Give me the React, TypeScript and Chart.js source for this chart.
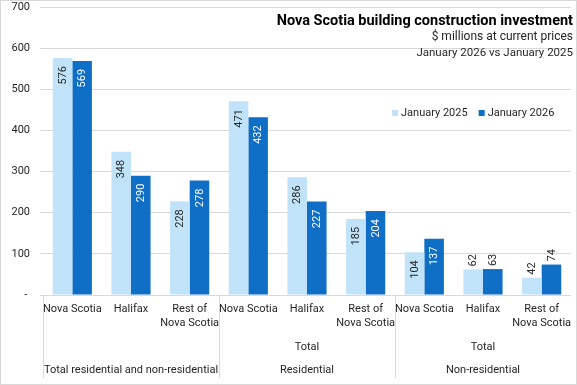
import React, { useEffect, useRef } from "react";
import { Chart, registerables } from "chart.js";

Chart.register(...registerables);

// ---- Data ----
const categoryLabels: string[][] = [
  ["Nova Scotia"], ["Halifax"], ["Rest of", "Nova Scotia"],
  ["Nova Scotia"], ["Halifax"], ["Rest of", "Nova Scotia"],
  ["Nova Scotia"], ["Halifax"], ["Rest of", "Nova Scotia"],
];
const groupStarts = [0, 3, 6];
const groupSizes = [3, 3, 3];
const groupTopLabels = ["", "Total", "Total"];
const groupBottomLabels = ["Total residential and non-residential", "Residential", "Non-residential"];
const seriesNames = ["January 2025", "January 2026"];
const jan2025 = [576, 348, 228, 471, 286, 185, 104, 62, 42];
const jan2026 = [569, 290, 278, 432, 227, 204, 137, 63, 74];
const yMax = 700;
const yStep = 100;
const titleText = "Nova Scotia building construction investment";
const subtitleLines = ["$ millions at current prices", "January 2026 vs January 2025"];

const LIGHT = "#C0E3FA";
const DARK = "#0F6FC6";
const TEXT = "#262626";
const FONT = "Roboto";

const overlayPlugin = {
  id: "overlay",
  beforeDraw(chart: any) {
    const { ctx, width, height } = chart;
    ctx.save();
    ctx.fillStyle = "#ffffff";
    ctx.fillRect(0, 0, width, height);
    ctx.restore();
  },
  afterDatasetsDraw(chart: any) {
    const { ctx } = chart;
    ctx.save();
    ctx.font = `11px ${FONT}`;
    ctx.textBaseline = "middle";
    chart.data.datasets.forEach((ds: any, di: number) => {
      const meta = chart.getDatasetMeta(di);
      meta.data.forEach((el: any, i: number) => {
        const txt = String(ds.data[i]);
        const w = ctx.measureText(txt).width;
        const h = el.base - el.y;
        const inside = h >= w + 22;
        ctx.save();
        ctx.translate(el.x + 0.5, el.y);
        ctx.rotate(-Math.PI / 2);
        if (inside) {
          ctx.textAlign = "right";
          ctx.fillStyle = di === 1 ? "#ffffff" : TEXT;
          ctx.fillText(txt, -8, 0);
        } else {
          ctx.textAlign = "left";
          ctx.fillStyle = TEXT;
          ctx.fillText(txt, 3, 0);
        }
        ctx.restore();
      });
    });
    ctx.restore();
  },
  afterDraw(chart: any) {
    const { ctx, chartArea, width, height } = chart;
    const xs = chart.scales.x;
    const catW = xs.getPixelForValue(1) - xs.getPixelForValue(0);
    const bottom = chartArea.bottom;
    ctx.save();
    // category labels
    ctx.fillStyle = TEXT;
    ctx.font = `11px ${FONT}`;
    ctx.textAlign = "center";
    ctx.textBaseline = "middle";
    categoryLabels.forEach((lines, i) => {
      const x = xs.getPixelForValue(i);
      lines.forEach((ln, li) => ctx.fillText(ln, x, bottom + 14 + li * 14));
    });
    // group separators and labels
    ctx.strokeStyle = "#D9D9D9";
    ctx.lineWidth = 1;
    groupStarts.forEach((s, g) => {
      const left = xs.getPixelForValue(s) - catW / 2;
      const right = xs.getPixelForValue(s + groupSizes[g] - 1) + catW / 2;
      const lx = Math.round(left) + 0.5;
      ctx.beginPath();
      ctx.moveTo(lx, bottom);
      ctx.lineTo(lx, bottom + 83);
      ctx.stroke();
      const cx = (left + right) / 2;
      if (groupTopLabels[g]) ctx.fillText(groupTopLabels[g], cx, bottom + 52);
      ctx.fillText(groupBottomLabels[g], cx, bottom + 75);
    });
    // title
    ctx.textAlign = "right";
    ctx.font = `bold 14.5px ${FONT}`;
    ctx.fillStyle = "#000000";
    ctx.fillText(titleText, 573, 21);
    ctx.fillStyle = TEXT;
    ctx.font = `12px ${FONT}`;
    ctx.fillText(subtitleLines[0], 573, 37);
    ctx.font = `11.5px ${FONT}`;
    ctx.fillText(subtitleLines[1], 573, 53);
    // legend
    ctx.textAlign = "left";
    ctx.font = `11px ${FONT}`;
    let lx = 392;
    const ly = 113;
    chart.data.datasets.forEach((ds: any) => {
      ctx.fillStyle = ds.backgroundColor;
      ctx.fillRect(lx, ly - 3, 6, 6);
      ctx.fillStyle = TEXT;
      ctx.fillText(ds.label, lx + 9, ly);
      lx += 9 + ctx.measureText(ds.label).width + 11;
    });
    // outer border
    ctx.strokeStyle = "#D9D9D9";
    ctx.strokeRect(0.5, 0.5, width - 1, height - 1);
    ctx.restore();
  },
};

export default function App() {
  const canvasRef = useRef<HTMLCanvasElement | null>(null);

  useEffect(() => {
    if (!canvasRef.current) return;
    const chart = new Chart(canvasRef.current, {
      type: "bar",
      data: {
        labels: categoryLabels.map((l) => l.join(" ")),
        datasets: [
          { label: seriesNames[0], data: jan2025, backgroundColor: LIGHT, categoryPercentage: 0.667, barPercentage: 1 },
          { label: seriesNames[1], data: jan2026, backgroundColor: DARK, categoryPercentage: 0.667, barPercentage: 1 },
        ],
      },
      options: {
        animation: false,
        responsive: false,
        devicePixelRatio: 1,
        layout: { padding: { left: 0, right: 6, top: 7, bottom: 0 } },
        plugins: { legend: { display: false }, tooltip: { enabled: false }, title: { display: false } },
        scales: {
          x: {
            offset: true,
            grid: { display: false },
            border: { display: false },
            ticks: { display: false },
            afterFit: (s: any) => { s.height = 90; s.paddingLeft = 0; s.paddingRight = 0; },
          },
          y: {
            min: 0,
            max: yMax,
            border: { display: false },
            grid: { color: "#D9D9D9", tickLength: 3, drawTicks: true },
            ticks: {
              stepSize: yStep,
              padding: 10,
              color: TEXT,
              font: { family: FONT, size: 11 },
              callback: (v: any) => (v === 0 ? "- " : String(v)),
            },
            afterFit: (s: any) => { s.width = 43; s.paddingTop = 0; s.paddingBottom = 0; },
          },
        },
      },
      plugins: [overlayPlugin],
    } as any);
    return () => chart.destroy();
  }, []);

  return (
    <div style={{ position: "fixed", left: 0, top: 0, width: 577, height: 385, background: "#fff" }}>
      <canvas ref={canvasRef} width={577} height={385} style={{ display: "block" }} />
    </div>
  );
}
